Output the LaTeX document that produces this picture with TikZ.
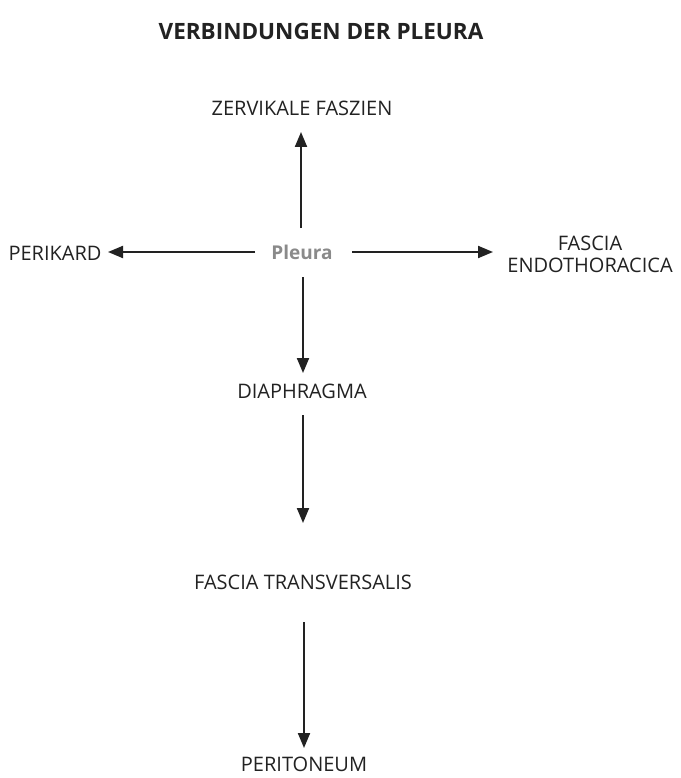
\documentclass[tikz,border=0pt]{standalone}
\usepackage{fontspec}
\setmainfont{Open Sans}
\usetikzlibrary{arrows.meta}
\definecolor{ink}{HTML}{222222}
\definecolor{pgray}{HTML}{8A8A8A}
\begin{document}
\begin{tikzpicture}[x=1pt,y=-1pt,
  lbl/.style={text=ink,font=\fontsize{20}{22}\selectfont,inner sep=0pt,align=center},
  arr/.style={draw=ink,line width=2pt,-{Triangle[length=15pt,width=12pt]}}]
\useasboundingbox[fill=white] (0,0) rectangle (680,778);
\node[text=ink,font=\bfseries\fontsize{22.5}{25}\selectfont,inner sep=0pt] (title) at (321,31) {VERBINDUNGEN DER PLEURA};
\node[text=pgray,font=\bfseries\fontsize{19}{21}\selectfont,inner sep=0pt] (pleura) at (302,252) {Pleura};
\node[lbl] (zerv) at (302,108) {ZERVIKALE FASZIEN};
\node[lbl] (peri) at (55,253) {PERIKARD};
\node[lbl] (fasc) at (590,254) {FASCIA\\ENDOTHORACICA};
\node[lbl] (dia) at (302,391) {DIAPHRAGMA};
\node[lbl] (trans) at (303,582) {FASCIA TRANSVERSALIS};
\node[lbl] (perit) at (304,764) {PERITONEUM};
\coordinate (pu) at (301,228);
\coordinate (pl) at (255,252);
\coordinate (pr) at (352,252);
\coordinate (pd) at (303,277);
\coordinate (du) at (303,415);
\coordinate (tu) at (304,622);
\draw[arr] (pu) -- (301,132);
\draw[arr] (pl) -- (108,252);
\draw[arr] (pr) -- (493,252);
\draw[arr] (pd) -- (303,373);
\draw[arr] (du) -- (303,523);
\draw[arr] (tu) -- (304,748);
\end{tikzpicture}
\end{document}
